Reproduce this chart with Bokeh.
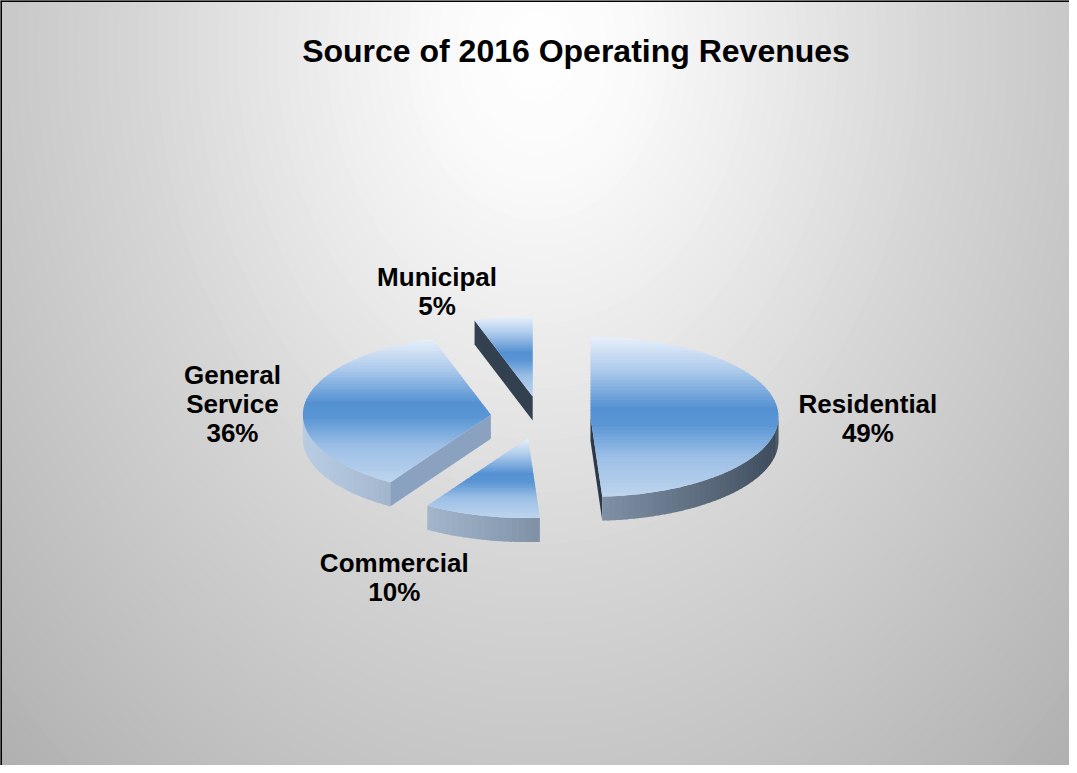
import math
import numpy as np
from bokeh.plotting import figure
from bokeh.models import Range1d, Span, ColumnDataSource
from bokeh.core.properties import value
from bokeh.embed import file_html
from bokeh.resources import INLINE

# ---------------- data ----------------
categories = ["Residential", "Commercial", "General Service", "Municipal"]
shares = [49, 10, 36, 5]
label_texts = ["Residential\n49%", "Commercial\n10%", "General\nService\n36%", "Municipal\n5%"]
chart_title = "Source of 2016 Operating Revenues"

# ---------------- layout ----------------
W, H = 1069, 765
CX, CY = 540.0, 417.0      # pie centre (plot coords, y down)
RX, RY = 188.0, 80.0       # ellipse radii of the tilted pie
DEPTH = 24.0               # thickness of the pie
EXPLODE = 50.0             # explosion distance
LABEL_F = 1.45
LABEL_NUDGE = {"Residential": (5, 5), "Commercial": (-66, 27),
               "General Service": (12, 4), "Municipal": (-53, 10)}
FONT = "Liberation Sans"

p = figure(width=W, height=H, x_range=Range1d(0, W), y_range=Range1d(H, 0),
           x_axis_location=None, y_axis_location=None, min_border=0,
           toolbar_location=None, output_backend="svg")
p.grid.visible = False
p.outline_line_color = None


def hexc(rgb):
    return "#%02x%02x%02x" % tuple(int(round(max(0, min(255, c)))) for c in rgb)


def interp_color(stops, t):
    for i in range(len(stops) - 1):
        t0, c0 = stops[i]
        t1, c1 = stops[i + 1]
        if t <= t1:
            f = 0 if t1 == t0 else (t - t0) / (t1 - t0)
            f = max(0.0, min(1.0, f))
            return tuple(c0[k] + f * (c1[k] - c0[k]) for k in range(3))
    return stops[-1][1]


# ---------------- background radial gradient ----------------
bg_stops = [(0, (255, 255, 255)), (100, (250, 250, 250)), (250, (233, 233, 233)),
            (400, (214, 214, 214)), (540, (200, 200, 200)), (700, (184, 184, 184)),
            (800, (172, 172, 172)), (1000, (160, 160, 160))]
radii = np.arange(1000, 0, -10.0)
bg = ColumnDataSource(dict(x=[537.0] * len(radii), y=[50.0] * len(radii),
                           w=list(2 * radii), h=list(2 * 1.3 * radii),
                           c=[hexc(interp_color(bg_stops, r)) for r in radii]))
p.background_fill_color = hexc(bg_stops[-1][1])
p.ellipse(x="x", y="y", width="w", height="h", fill_color="c", line_color=None, source=bg)

# ---------------- pie geometry ----------------
total = float(sum(shares))
starts, ends = [], []
acc = 0.0
for s in shares:
    starts.append(acc / total * 360.0)
    acc += s
    ends.append(acc / total * 360.0)


def pt(ox, oy, th):
    r = math.radians(th)
    return (ox + RX * math.sin(r), oy - RY * math.cos(r))


def clip_half(pts, yc, sgn):
    out = []
    n = len(pts)
    for i in range(n):
        P = pts[i]
        Q = pts[(i + 1) % n]
        pin = sgn * (P[1] - yc) >= 0
        qin = sgn * (Q[1] - yc) >= 0
        if pin:
            out.append(P)
        if pin != qin:
            t = (yc - P[1]) / (Q[1] - P[1])
            out.append((P[0] + t * (Q[0] - P[0]), yc))
    return out


top_stops = [(0.0, (232, 240, 250)), (0.2, (176, 204, 236)), (0.45, (84, 145, 210)),
             (0.55, (90, 150, 212)), (0.75, (156, 191, 230)), (1.0, (190, 212, 238))]
rim_dark, rim_light = (56, 70, 86), (182, 202, 226)
cut_dark, cut_light = (42, 54, 68), (140, 164, 194)
L1 = np.array([-1.0, 0.2]); L1 /= np.linalg.norm(L1)
L2 = np.array([1.0, 0.3]); L2 /= np.linalg.norm(L2)


def shade(lo, hi, v):
    f = (v + 1) / 2
    return tuple(lo[k] + f * (hi[k] - lo[k]) for k in range(3))


slices = []
for i, cat in enumerate(categories):
    a, b = starts[i], ends[i]
    m = math.radians((a + b) / 2)
    ox = CX + EXPLODE * math.sin(m)
    oy = CY - EXPLODE * math.cos(m) * RY / RX
    slices.append((oy, i, a, b, ox))

xs, ys, cs = [], [], []
for oy, i, a, b, ox in sorted(slices):
    # cut faces
    faces = []
    if math.sin(math.radians(a)) < -1e-6:
        ra = math.radians(a)
        faces.append((a, np.array([-math.cos(ra), -math.sin(ra)])))
    if math.sin(math.radians(b)) > 1e-6:
        rb = math.radians(b)
        faces.append((b, np.array([math.cos(rb), math.sin(rb)])))
    for ang, nrm in faces:
        rx_, ry_ = pt(ox, oy, ang)
        xs.append([ox, rx_, rx_, ox])
        ys.append([oy, ry_, ry_ + DEPTH, oy + DEPTH])
        cs.append(hexc(shade(cut_dark, cut_light, float(nrm @ L2))))
    # outer rim (front half)
    lo, hi = max(a, 90.0), min(b, 270.0)
    if hi > lo:
        nseg = max(2, int((hi - lo) / 2))
        edges = np.linspace(lo, hi, nseg + 1)
        for k in range(nseg):
            t0, t1 = edges[k], edges[k + 1]
            t1e = min(hi, t1 + 0.6)
            arc = np.linspace(t0, t1e, 4)
            top = [pt(ox, oy, t) for t in arc]
            xs.append([q[0] for q in top] + [q[0] for q in top[::-1]])
            ys.append([q[1] for q in top] + [q[1] + DEPTH for q in top[::-1]])
            tm = math.radians((t0 + t1) / 2)
            nrm = np.array([math.sin(tm), -math.cos(tm)])
            cs.append(hexc(shade(rim_dark, rim_light, float(nrm @ L1))))
    # top face with vertical gradient bands
    arc = np.linspace(a, b, max(3, int(b - a) + 2))
    poly = [(ox, oy)] + [pt(ox, oy, t) for t in arc]
    ymin = min(q[1] for q in poly)
    ymax = max(q[1] for q in poly)
    nb = 48
    step = (ymax - ymin) / nb
    for k in range(nb):
        y0 = ymin + k * step
        y1 = y0 + step + 0.8
        part = clip_half(clip_half(poly, y0, 1), y1, -1)
        if len(part) < 3:
            continue
        xs.append([q[0] for q in part])
        ys.append([q[1] for q in part])
        cs.append(hexc(interp_color(top_stops, (k + 0.5) / nb)))

p.patches(xs="xs", ys="ys", fill_color="cs", line_color=None,
          source=ColumnDataSource(dict(xs=xs, ys=ys, cs=cs)))

# ---------------- labels ----------------
lx, ly = [], []
for i, cat in enumerate(categories):
    a, b = starts[i], ends[i]
    m = math.radians((a + b) / 2)
    ox = CX + EXPLODE * math.sin(m)
    oy = CY - EXPLODE * math.cos(m) * RY / RX
    dx, dy = LABEL_NUDGE[cat]
    lx.append(ox + LABEL_F * RX * math.sin(m) + dx)
    ly.append(oy - LABEL_F * RY * math.cos(m) + dy)
p.text(x="x", y="y", text="t", source=ColumnDataSource(dict(x=lx, y=ly, t=label_texts)),
       text_font=value(FONT), text_font_style="bold", text_font_size="26px",
       text_align="center", text_baseline="middle", text_line_height=0.97,
       text_color="#000000")

p.text(x=[575.5], y=[50.0], text=[chart_title], text_font=value(FONT),
       text_font_style="bold", text_font_size="32px", text_align="center",
       text_baseline="middle", text_color="#000000")

# ---------------- border (left / top) ----------------
p.add_layout(Span(location=0, dimension="height", line_color="black", line_width=3))
p.add_layout(Span(location=0, dimension="width", line_color="black", line_width=3))

open("out.html", "w").write(file_html(p, INLINE))
